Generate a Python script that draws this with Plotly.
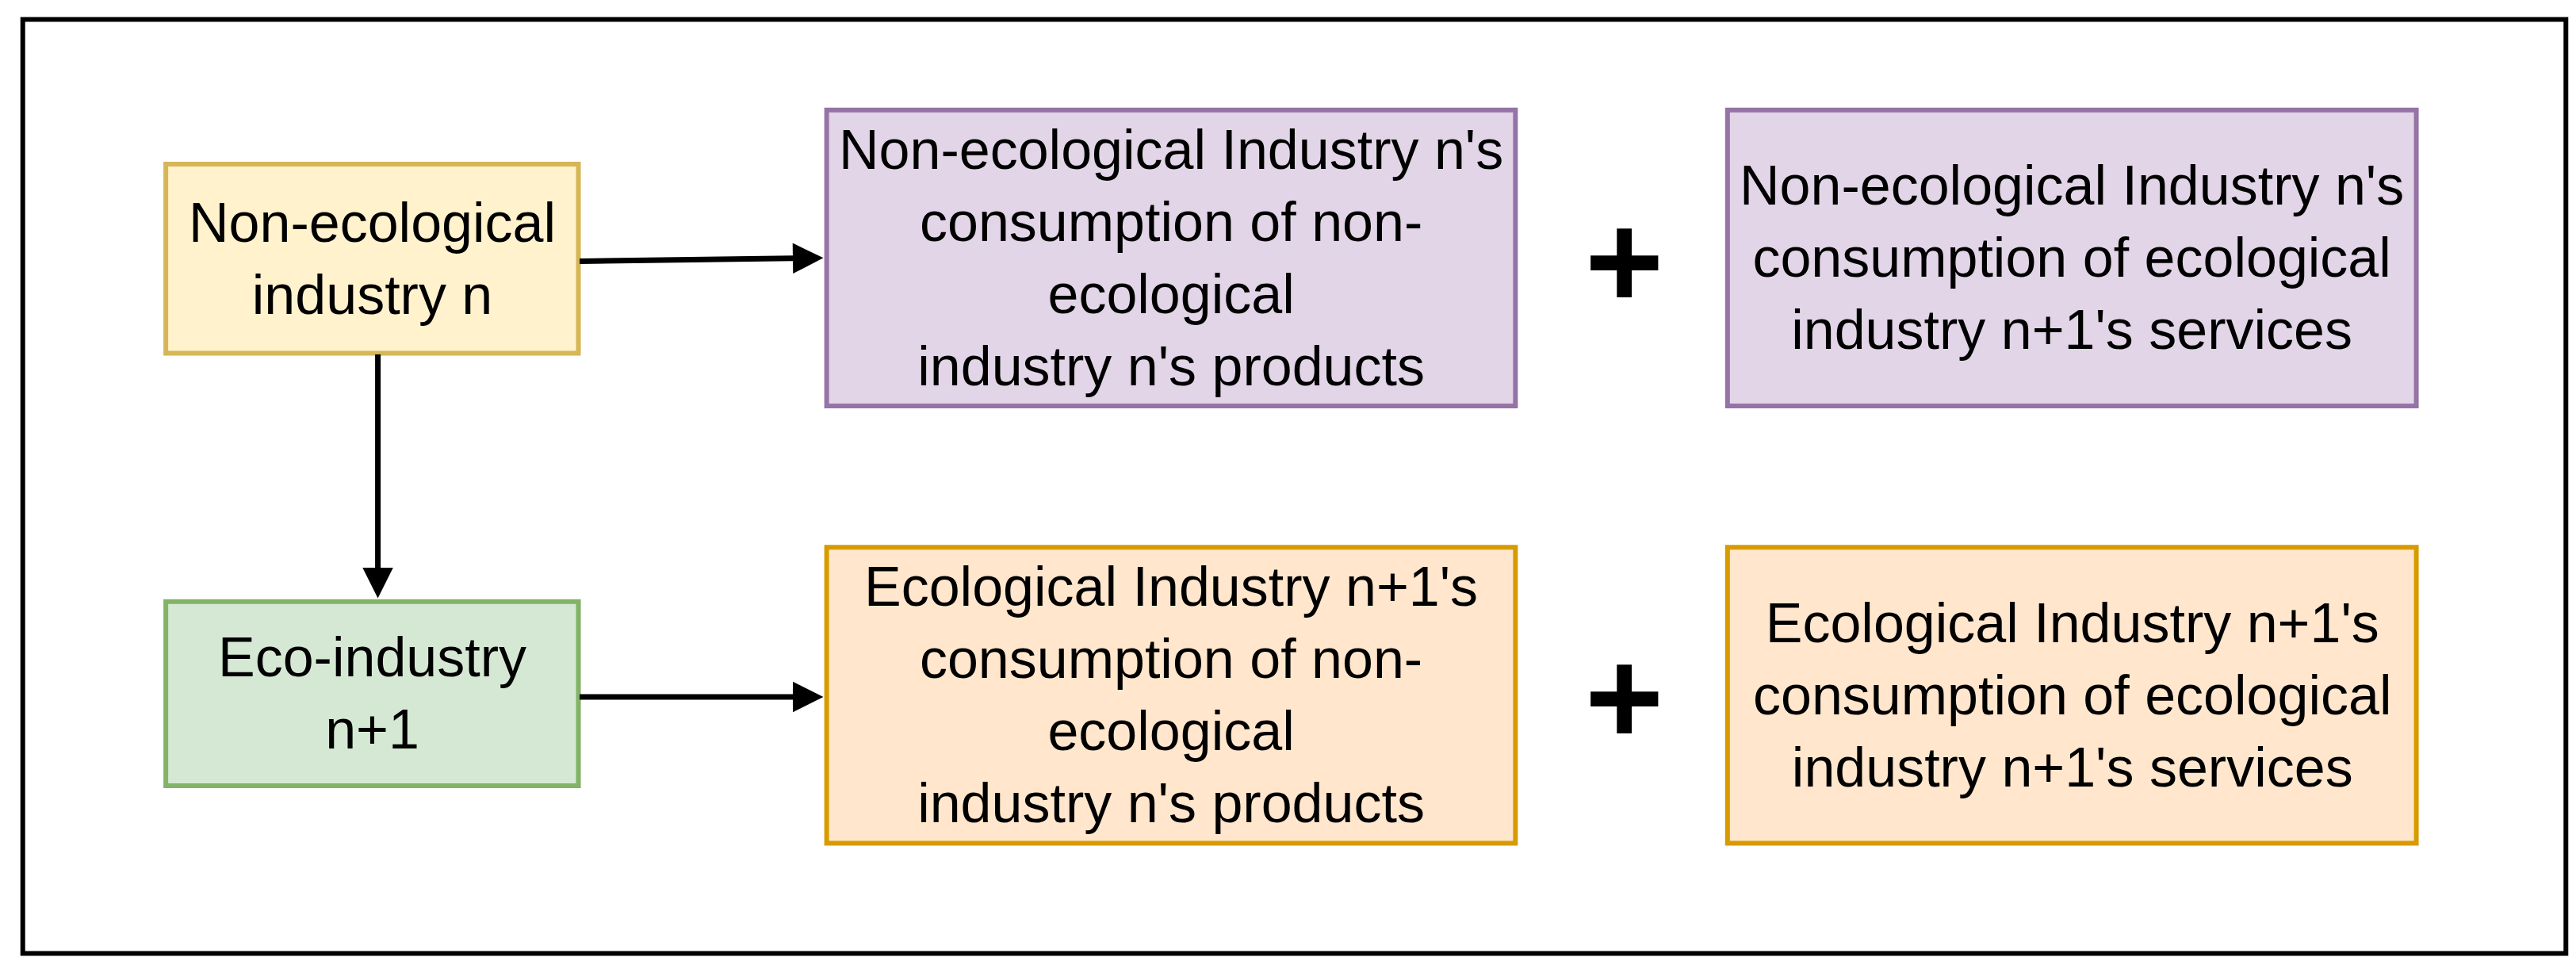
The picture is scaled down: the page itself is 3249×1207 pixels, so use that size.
import plotly.graph_objects as go

# box labels and styles
labels = [
    "Non-ecological<br>industry n",
    "Non-ecological Industry n's<br>consumption of non-<br>ecological<br>industry n's products",
    "Non-ecological Industry n's<br>consumption of ecological<br>industry n+1's services",
    "Eco-industry<br>n+1",
    "Ecological Industry n+1's<br>consumption of non-<br>ecological<br>industry n's products",
    "Ecological Industry n+1's<br>consumption of ecological<br>industry n+1's services",
]
x0s = [97, 499, 1047, 97, 499, 1047]
x1s = [348, 918, 1466, 348, 918, 1466]
y0s = [96, 63, 63, 362, 329, 329]
y1s = [211, 243, 243, 474, 509, 509]
fills = ["#fff2cc", "#e1d5e7", "#e1d5e7", "#d5e8d4", "#ffe6cc", "#ffe6cc"]
lines = ["#d6b656", "#9673a6", "#9673a6", "#82b366", "#d79b00", "#d79b00"]

fig = go.Figure()
shapes = [dict(type="rect", x0=10, x1=1557, y0=8, y1=576, line=dict(color="black", width=6),
               fillcolor="white", layer="below")]
annotations = []
for lab, a, b, c, d, f, l in zip(labels, x0s, x1s, y0s, y1s, fills, lines):
    shapes.append(dict(type="rect", x0=a, x1=b, y0=c, y1=d, fillcolor=f, line=dict(color=l, width=6)))
    annotations.append(dict(x=(a + b) / 2, y=(c + d) / 2, text=lab, showarrow=False,
                            font=dict(size=70, color="black", family="Liberation Sans")))

# plus signs
for yy in [155, 420]:
    annotations.append(dict(x=984, y=yy, text="<b>+</b>", showarrow=False,
                            font=dict(size=170, color="black", family="Liberation Sans")))

# arrows
arrows = [((348, 155), (497, 153)), ((226, 211), (226, 360)), ((348, 420), (497, 420))]
for (sx, sy), (ex, ey) in arrows:
    annotations.append(dict(x=ex, y=ey, ax=sx, ay=sy, xref="x", yref="y", axref="x", ayref="y",
                            text="", showarrow=True, arrowhead=2, arrowsize=1.1, arrowwidth=7,
                            arrowcolor="black"))

fig.update_layout(
    shapes=shapes, annotations=annotations,
    width=3249, height=1207, margin=dict(l=0, r=0, t=0, b=0),
    plot_bgcolor="white", paper_bgcolor="white",
    xaxis=dict(range=[0, 1567], visible=False),
    yaxis=dict(range=[582, 0], visible=False),
)
fig.write_html("out.html")
